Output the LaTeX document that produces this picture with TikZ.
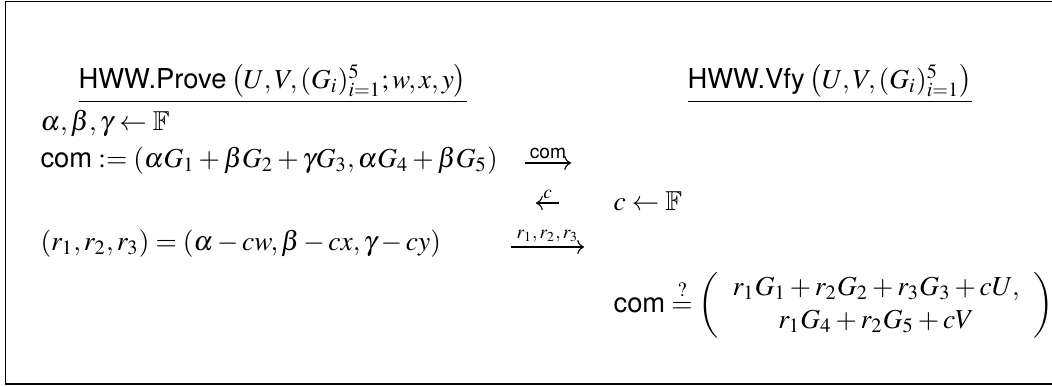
\documentclass[tikz,border=0pt]{standalone}
\usepackage{amssymb}
\usepackage{mathptmx}
\usepackage{fontspec}
\setsansfont{TeX Gyre Heros}
\usetikzlibrary{arrows.meta}

\begin{document}
\begin{tikzpicture}[x = 0.365pt, y = -0.365pt,
		txt/.style = {anchor = base west, inner sep = 0pt},
		msg/.style = {-{Computer Modern Rightarrow}},
		lbl/.style = {above = 1.5pt, inner sep = 0pt, font = \scriptsize}]
		\useasboundingbox (0,0) rectangle (1052,386);
		\draw (1052,1.5) -- (5.5,1.5) -- (5.5,384) -- (1052,384);
		% prover and verifier
		\node [txt] (prv) at (78,88) {\underline{\textsf{HWW.Prove}\,$\left(U,V,(G_i)_{i=1}^5;w,x,y\right)$}};
		\node [txt] (vfy) at (687,88) {\underline{\textsf{HWW.Vfy}\,$\left(U,V,(G_i)_{i=1}^5\right)$}};
		\node [txt] (smp) at (40,130) {$\alpha,\beta,\gamma \leftarrow \mathbb{F}$};
		\node [txt] (cmt) at (40,167) {$\textsf{com} := (\alpha G_1+\beta G_2+\gamma G_3, \alpha G_4+\beta G_5)$};
		\node [txt] (chl) at (613,210) {$c \leftarrow \mathbb{F}$};
		\node [txt] (rsp) at (40,250) {$(r_1,r_2,r_3) = (\alpha - cw, \beta - cx, \gamma - cy)$};
		\node [txt] (chk) at (613,312) {$\textsf{com} \stackrel{?}{=} \left(\begin{array}{c} r_1G_1+r_2G_2+r_3G_3+cU, \\ r_1G_4+r_2G_5+cV \end{array}\right)$};
		% messages
		\coordinate (m1a) at (525,163);
		\coordinate (m1b) at (571,163);
		\coordinate (m2a) at (559,203);
		\coordinate (m2b) at (536,203);
		\coordinate (m3a) at (511,247);
		\coordinate (m3b) at (584,247);
		\draw [msg] (m1a) -- node [lbl] {\textsf{com}} (m1b);
		\draw [msg] (m2a) -- node [lbl] {$c$} (m2b);
		\draw [msg] (m3a) -- node [lbl] {$r_1,r_2,r_3$} (m3b);
	\end{tikzpicture}
\end{document}
